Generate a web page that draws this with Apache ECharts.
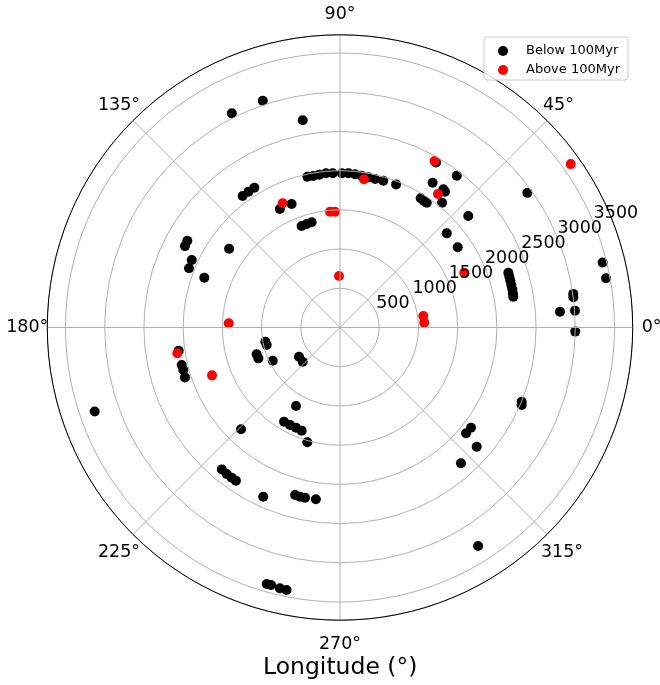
<!DOCTYPE html>
<html><head><meta charset="utf-8">
<script src="https://cdn.jsdelivr.net/npm/echarts@6/dist/echarts.min.js"></script>
<style>html,body{margin:0;padding:0;background:#fff}#c{width:660px;height:685px}</style>
</head><body><div id="c"></div>
<script>
// ---- data (radius, longitude in degrees) ----
const belowRadius = [3055,3059,2684,1967,1961,1966,1974,1968,1966,1969,1963,1955,1949,1945,1952,1960,
  2441,2192,2200,2189,2055,1942,1936,1938,1691,1694,1383,1386,1389,2167,1815,1817,2942,
  2257,2254,2252,2250,2250,2247,2244,3450,3449,3005,3000,2812,3004,3000,2502,2518,2103,2098,2313,2319,3295,
  2078,2074,2070,2077,3306,969,961,1116,1113,957,642,645,1147,1397,1397,1395,1403,1522,1811,
  2355,2361,2361,2361,2369,2211,2217,2216,2212,3402,3399,3412,3416,2086,2089,2091,2239,2233,1735,2077,2068,1843,2434];
const belowLongitude = [108.8,116.8,100.2,102.2,100.0,97.7,95.2,92.7,89.3,86.9,84.4,81.9,79.3,76.7,73.6,68.6,
  52.4,57.4,53.2,52.3,50.7,58.0,56.4,55.2,111.4,116.9,110.7,107.8,105.1,41.0,41.4,34.3,35.7,
  18.0,16.7,15.4,13.9,12.5,11.2,10.1,13.9,10.5,8.2,7.4,4.1,4.1,359.0,337.8,336.9,322.6,320.0,318.9,311.7,302.3,
  188.2,193.3,195.2,197.9,198.9,190.8,193.4,197.8,200.7,206.3,215.5,222.5,240.7,239.3,242.9,246.3,249.6,254.1,225.8,
  230.2,232.3,234.2,235.8,245.6,255.0,256.7,258.4,262.0,254.05,255.0,257.0,258.5,126.5,124.0,121.5,150.4,152.3,144.6,155.5,158.6,159.85,59.8];
const aboveRadius = [1744,1482,1478,657,1914,2442,2111,3605,1732,1072,1076,1420,2100,1742];
const aboveLongitude = [114.8,94.9,92.5,91.1,80.8,60.4,53.7,35.3,23.8,7.9,3.3,177.8,189.0,200.5];
const angleTicks = [0,45,90,135,180,225,270,315];
const radiusTicks = [500,1000,1500,2000,2500,3000,3500];
const seriesNames = ['Below 100Myr','Above 100Myr'];
const axisTitle = 'Longitude (°)';

const RMAX = 3732;
const FONT = 'DejaVu Sans';
const pairs = (r, t) => r.map((v, i) => [v, t[i]]);

const labelPad = {0:[0,0,0,19],45:[0,0,27,3],90:[0,0,42,0],135:[0,0,27,0],180:[0,9,0,0],225:[33,0,0,0],270:[50,0,0,0],315:[33,0,0,1]};
const rich = {};
angleTicks.forEach(a => { rich['a'+a] = {fontSize:17.5, lineHeight:18, fontFamily:FONT, color:'#000', padding:labelPad[a]}; });

const chart = echarts.init(document.getElementById('c'), null, {renderer:'canvas'});
chart.setOption({
  animation:false,
  backgroundColor:'#fff',
  title:{text:axisTitle, left:258, top:651, textStyle:{fontFamily:FONT, fontSize:23.5, fontWeight:'normal', color:'#000'}},
  legend:{
    data:seriesNames, orient:'vertical', left:484, top:37, z:10,
    icon:'circle', itemWidth:10, itemHeight:10, itemGap:5,
    padding:[7,8,3,14], backgroundColor:'rgba(255,255,255,0.8)', borderColor:'#cccccc', borderWidth:1, borderRadius:3,
    textStyle:{fontFamily:FONT, fontSize:13, color:'#000', lineHeight:14, padding:[0,0,0,13]}
  },
  polar:[
    {center:[340,327.5], radius:292.7},
    {center:[340,327.5], radius:292.7}
  ],
  angleAxis:[
    {polarIndex:0, type:'value', min:0, max:360, interval:45, startAngle:0, clockwise:false, z:5,
     axisLine:{show:true, lineStyle:{color:'#000', width:1}},
     axisTick:{show:false},
     splitLine:{show:true, lineStyle:{color:'#b0b0b0', width:1}},
     axisLabel:{margin:-10, formatter: v => (v >= 360 ? '' : '{a'+v+'|'+v+'°}'), rich:rich}
    },
    {polarIndex:1, type:'value', min:0, max:360, startAngle:22.5, clockwise:false, show:false}
  ],
  radiusAxis:[
    {polarIndex:0, type:'value', min:0, max:RMAX, interval:500, z:4,
     axisLine:{show:false}, axisTick:{show:false}, axisLabel:{show:false},
     splitLine:{show:true, lineStyle:{color:'#b0b0b0', width:1}}
    },
    {polarIndex:1, type:'value', min:0, max:RMAX, interval:500, z:6,
     axisLine:{show:false}, axisTick:{show:false}, splitLine:{show:false},
     axisLabel:{show:true, margin:0, align:'left', verticalAlign:'bottom', fontFamily:FONT, fontSize:17.5, color:'#000',
       formatter: v => (radiusTicks.indexOf(v) >= 0 ? String(v) : '')}
    }
  ],
  series:[
    {name:seriesNames[0], type:'scatter', coordinateSystem:'polar', polarIndex:0, symbolSize:10, z:2,
     itemStyle:{color:'#000', opacity:1}, data:pairs(belowRadius, belowLongitude)},
    {name:seriesNames[1], type:'scatter', coordinateSystem:'polar', polarIndex:0, symbolSize:10, z:3,
     itemStyle:{color:'#ff0000', opacity:1}, data:pairs(aboveRadius, aboveLongitude)}
  ]
});
</script></body></html>
